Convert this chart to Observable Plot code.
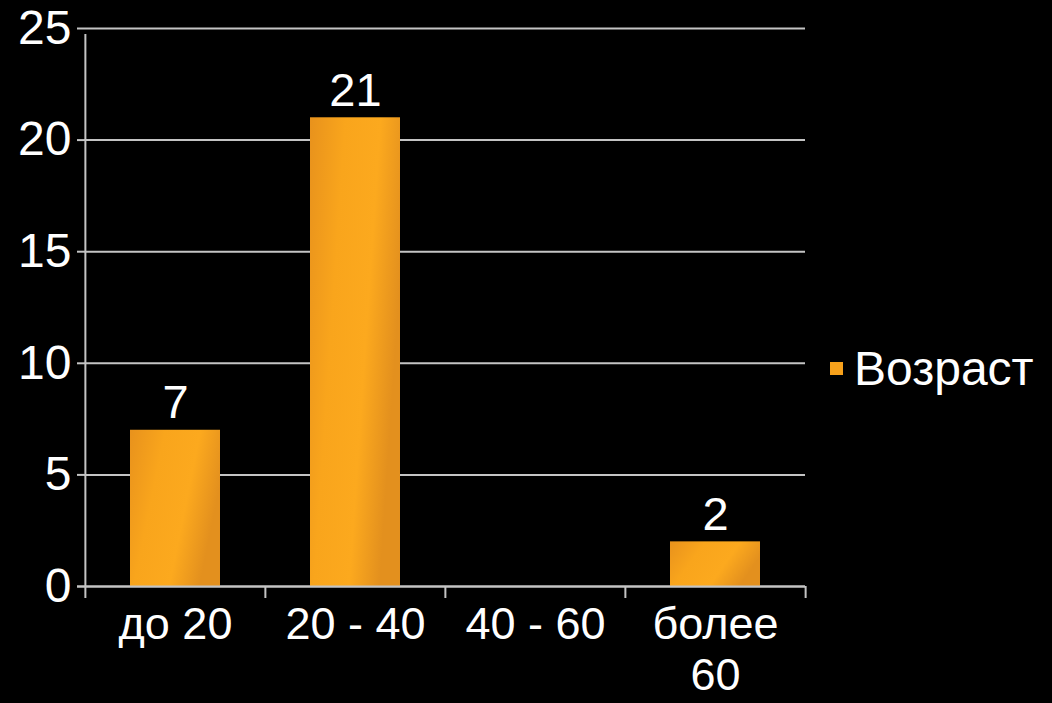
<!DOCTYPE html>
<html>
<head>
<meta charset="utf-8">
<script src="https://cdn.jsdelivr.net/npm/d3@7"></script>
<script src="https://cdn.jsdelivr.net/npm/@observablehq/plot@0.6"></script>
<style>
  html, body { margin: 0; padding: 0; background: #000; }
  #wrap { position: relative; width: 1052px; height: 703px; background: #000; overflow: hidden; }
  #legend { position: absolute; left: 830px; top: 341px; display: flex; align-items: center;
            font-family: "Liberation Sans", Arial, sans-serif; font-size: 48px; color: #fff; }
  #legend .sw { width: 13px; height: 13px; background: #f7a11b; margin-right: 11px; }
</style>
</head>
<body>
<div id="wrap"><div id="legend"><span class="sw"></span><span id="legtext"></span></div></div>
<script>
const categories = ["до 20", "20 - 40", "40 - 60", "более 60"];
const tickLabels = ["до 20", "20 - 40", "40 - 60", "более\n60"];
const values = [7, 21, 0, 2];
const seriesName = "Возраст";
const yTicks = [0, 5, 10, 15, 20, 25];

const data = categories.map((c, i) => ({cat: c, value: values[i]}));
const W = 1052, H = 703, ML = 84, MR = 247, MT = 28, MB = 117;
const step = (W - ML - MR) / categories.length;
const gridColor = "#c4c4c4";
const font = "Liberation Sans, Arial, sans-serif";

const plot = Plot.plot({
  width: W, height: H,
  marginLeft: ML, marginRight: MR, marginTop: MT, marginBottom: MB,
  style: {background: "#000", color: "#fff", fontFamily: font},
  x: {domain: categories, padding: 0},
  y: {domain: [0, 25]},
  marks: [
    Plot.gridY(yTicks, {stroke: gridColor, strokeOpacity: 1, strokeWidth: 2}),
    Plot.axisY(yTicks, {tickSize: 7, tickPadding: 6, fontSize: 48, stroke: gridColor, strokeWidth: 2, fill: "#fff", label: null}),
    Plot.barY(data, {x: "cat", y: "value", fill: "url(#barGrad)", insetLeft: 45, insetRight: 45}),
    Plot.ruleY([0], {stroke: gridColor, strokeWidth: 2, insetLeft: -7}),
    Plot.ruleX([categories[0]], {x: d => d, y1: 0, y2: 25, dx: -step / 2, stroke: gridColor, strokeWidth: 2, insetBottom: -6}),
    Plot.ruleX(categories, {x: d => d, y1: 0, y2: 0, dx: -step / 2, stroke: gridColor, strokeWidth: 2, insetBottom: -12}),
    Plot.ruleX([categories[categories.length - 1]], {x: d => d, y1: 0, y2: 0, dx: step / 2, stroke: gridColor, strokeWidth: 2, insetBottom: -12}),
    Plot.axisX({tickSize: 0, tickPadding: 16, fontSize: 45, lineHeight: 1.14, fill: "#fff", label: null,
      tickFormat: d => tickLabels[categories.indexOf(d)]}),
    Plot.text(data.filter(d => d.value > 0), {x: "cat", y: "value", text: d => String(d.value), dy: -27, lineAnchor: "middle", fontSize: 47, fill: "#fff"})
  ]
});

const svg = d3.select(plot);
const defs = svg.insert("defs", ":first-child");
const g = defs.append("linearGradient").attr("id", "barGrad")
  .attr("x1", "0").attr("y1", "0").attr("x2", "1").attr("y2", "0.35");
g.append("stop").attr("offset", "0%").attr("stop-color", "#e8921c");
g.append("stop").attr("offset", "35%").attr("stop-color", "#f9a51c");
g.append("stop").attr("offset", "70%").attr("stop-color", "#fca91e");
g.append("stop").attr("offset", "100%").attr("stop-color", "#e3901e");

document.getElementById("wrap").prepend(plot);
document.getElementById("legtext").textContent = seriesName;
</script>
</body>
</html>
